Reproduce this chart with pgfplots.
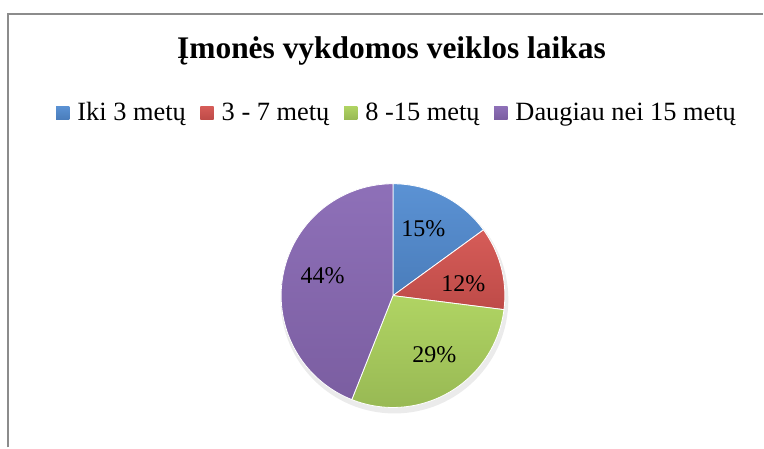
\documentclass[border=0pt]{standalone}
\usepackage{pgfplots}
\pgfplotsset{compat=1.18}
\usepackage{fontspec}
\setmainfont{Liberation Serif}
\definecolor{cBlue}{HTML}{4A7DBB}
\definecolor{cBlueL}{HTML}{5B92D4}
\definecolor{cRed}{HTML}{BE4B48}
\definecolor{cRedL}{HTML}{D65C58}
\definecolor{cGreen}{HTML}{98B954}
\definecolor{cGreenL}{HTML}{B0D463}
\definecolor{cPurple}{HTML}{7B5EA1}
\definecolor{cPurpleL}{HTML}{8E70B8}
\definecolor{frameGray}{HTML}{8C8C8C}
% values (%): 15, 12, 29, 44 -> clockwise from 90 deg
% 15% : 90 -> 36 ; 12% : 36 -> -7.2 ; 29% : -7.2 -> -111.6 ; 44% : -111.6 -> -270
\begin{document}
\begin{tikzpicture}
\begin{axis}[
  scale only axis, width=573pt, height=336pt,
  xmin=0, xmax=764, ymin=0, ymax=448, y dir=reverse,
  hide axis, clip=false,
  legend columns=4,
  legend style={draw=none, fill=none, at={(0.519,0.748)}, anchor=center,
    font=\fontsize{19.8}{23}\selectfont,
    nodes={inner sep=0pt, outer sep=0pt},
    column sep=0pt,
    /tikz/every even column/.append style={column sep=11pt},
    /tikz/every odd column/.append style={column sep=6pt}},
  legend image code/.code={\path[#1, draw=none] (0pt,-5pt) rectangle (10pt,5pt);},
]
\path (axis cs:0,0) rectangle (axis cs:764,448);
\draw[frameGray, line width=1.5pt] (axis cs:8,448) -- (axis cs:8,14) -- (axis cs:764,14);
% faint shadow
\fill[black, opacity=0.08] (axis cs:395,300) circle[radius=85.5pt];
\addplot[draw=white, line width=0.6pt, top color=cBlueL, bottom color=cBlue, domain=36:90, samples=40]
  ({393.5+112*cos(x)}, {296-112*sin(x)}) -- (axis cs:393.5,296) -- cycle;
\addlegendentry{Iki 3 metų}
\addplot[draw=white, line width=0.6pt, top color=cRedL, bottom color=cRed, domain=-7.2:36, samples=40]
  ({393.5+112*cos(x)}, {296-112*sin(x)}) -- (axis cs:393.5,296) -- cycle;
\addlegendentry{3 - 7 metų}
\addplot[draw=white, line width=0.6pt, top color=cGreenL, bottom color=cGreen, domain=-111.6:-7.2, samples=60]
  ({393.5+112*cos(x)}, {296-112*sin(x)}) -- (axis cs:393.5,296) -- cycle;
\addlegendentry{8 -15 metų}
\addplot[draw=white, line width=0.6pt, top color=cPurpleL, bottom color=cPurple, domain=-270:-111.6, samples=80]
  ({393.5+112*cos(x)}, {296-112*sin(x)}) -- (axis cs:393.5,296) -- cycle;
\addlegendentry{Daugiau nei 15 metų}
\node[font=\fontsize{23.6}{28}\selectfont\bfseries] at (axis cs:392,51) {Įmonės vykdomos veiklos laikas};
\node[font=\fontsize{18}{20}\selectfont] at (axis cs:424,229) {15\%};
\node[font=\fontsize{18}{20}\selectfont] at (axis cs:464,284) {12\%};
\node[font=\fontsize{18}{20}\selectfont] at (axis cs:435,355) {29\%};
\node[font=\fontsize{18}{20}\selectfont] at (axis cs:323,276) {44\%};
\end{axis}
\end{tikzpicture}
\end{document}
